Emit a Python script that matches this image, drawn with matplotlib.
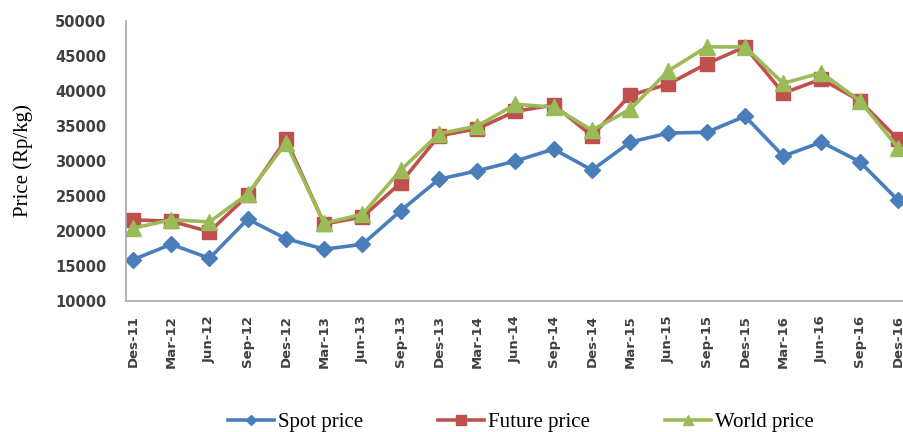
import numpy as np
import matplotlib.pyplot as plt

months = ['Des-11', 'Mar-12', 'Jun-12', 'Sep-12', 'Des-12', 'Mar-13', 'Jun-13',
          'Sep-13', 'Des-13', 'Mar-14', 'Jun-14', 'Sep-14', 'Des-14', 'Mar-15',
          'Jun-15', 'Sep-15', 'Des-15', 'Mar-16', 'Jun-16', 'Sep-16', 'Des-16']
spot = [15900, 18100, 16100, 21700, 18900, 17400, 18100, 22900, 27400, 28600, 30000,
        31700, 28700, 32700, 34000, 34100, 36400, 30700, 32700, 29900, 24400]
future = [21600, 21400, 19900, 25100, 33100, 21000, 22000, 26900, 33600, 34600, 37100,
          38000, 33600, 39400, 41000, 43900, 46300, 39700, 41700, 38600, 33100]
world = [20400, 21600, 21300, 25300, 32600, 21100, 22400, 28700, 33900, 35000, 38100,
         37700, 34400, 37400, 42900, 46300, 46300, 41100, 42600, 38600, 31900]

fig = plt.figure(figsize=(9.04, 4.32), dpi=100)
ax = fig.add_axes([126/904, 1 - 301/432, 1 - 126/904, 280/432])

x = np.arange(len(months))
ax.plot(x, spot, color='#4A7EBB', lw=2.6, marker='D', ms=8, label='Spot price')
ax.plot(x, future, color='#C0504D', lw=2.6, marker='s', ms=10, label='Future price')
ax.plot(x, world, color='#9BBB59', lw=2.6, marker='^', ms=11, label='World price')

ax.set_xlim(-7/38.25, 20 + 6/38.25)
ax.set_ylim(10000, 50000)
ax.set_yticks(np.arange(10000, 50001, 5000))
ax.set_xticks(x)
ax.set_xticklabels(months, rotation=90, fontsize=9.5, fontweight='bold', color='#404040')
for t in ax.get_yticklabels():
    t.set_fontsize(10.5)
    t.set_fontweight('bold')
    t.set_color('#404040')
ax.tick_params(axis='both', length=0)
ax.tick_params(axis='x', pad=10)
ax.tick_params(axis='y', pad=14)

for s in ['top', 'right']:
    ax.spines[s].set_visible(False)
for s in ['left', 'bottom']:
    ax.spines[s].set_color('#a6a6a6')
    ax.spines[s].set_linewidth(1.2)

ax.set_ylabel('Price (Rp/kg)', family='Liberation Serif', fontsize=15, labelpad=16)

fig.legend(loc='center', bbox_to_anchor=(0.576, 1 - 422/432), ncol=3, frameon=False,
           prop={'family': 'Liberation Serif', 'size': 15}, handlelength=2.2,
           handletextpad=0.2, columnspacing=3.6, markerscale=0.7)

fig.savefig('out.png', dpi=100)
